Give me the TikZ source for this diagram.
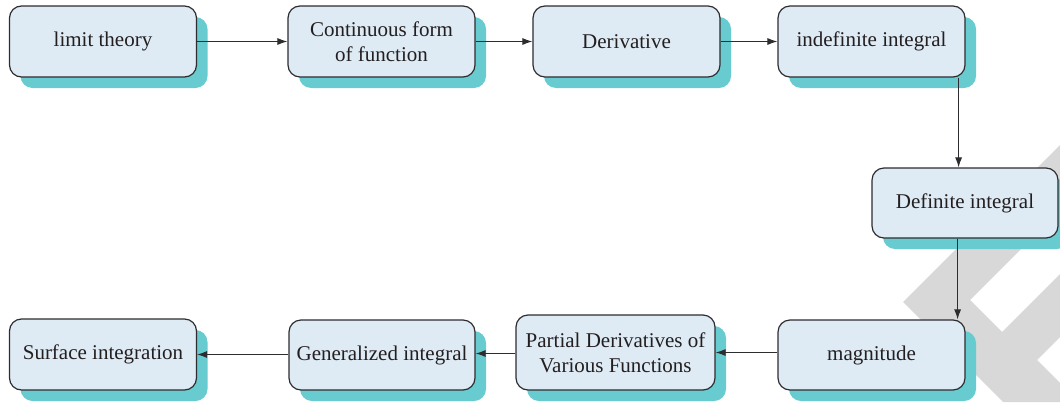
\documentclass[tikz,border=0pt]{standalone}
\usepackage{fontspec}
\setmainfont{Liberation Serif}
\usetikzlibrary{shadows,arrows.meta}
\definecolor{boxfill}{RGB}{222,234,244}
\definecolor{boxline}{RGB}{45,45,48}
\definecolor{shadowcol}{RGB}{104,203,208}
\definecolor{textcol}{RGB}{35,31,32}
\definecolor{markgrey}{RGB}{216,216,216}
\tikzset{
  stagebox/.style={
    draw=boxline, line width=1.2pt, fill=boxfill, rounded corners=12pt,
    minimum width=187pt, minimum height=71pt, inner sep=0pt, align=center,
    text=textcol, font=\fontsize{21pt}{25pt}\selectfont,
    drop shadow={shadow xshift=11pt, shadow yshift=-11pt, fill=shadowcol, opacity=1}},
  flow/.style={draw=boxline, line width=1pt, -{Latex[length=10pt,width=7pt]}}
}
\begin{document}
\begin{tikzpicture}[x=1pt,y=-1pt]
\useasboundingbox (0,0) rectangle (1060,402);
% grey background emblem in the lower right corner
\fill[markgrey, even odd rule]
  (1060,145) -- (903,302) -- (1003,402) -- (1060,402) -- cycle
  (970,300) -- (1060,210) -- (1060,274) -- (1002,332) -- cycle
  (1037,360) -- (1060,337) -- (1060,383) -- cycle;

% top row
\node[stagebox] (lim)  at (103,41.5)   {limit theory};
\node[stagebox] (cont) at (381.5,41.5) {Continuous form\\of function};
\node[stagebox] (der)  at (626.5,41.5) {Derivative};
\node[stagebox] (indef) at (871.5,41.5) {indefinite integral};
% right column
\node[stagebox, minimum width=186pt, minimum height=70pt] (defi) at (965,203) {Definite integral};
% bottom row
\node[stagebox, minimum height=70pt] (mag) at (871.5,355) {magnitude};
\node[stagebox, minimum width=199pt, minimum height=75pt] (part) at (615.5,352.5) {Partial Derivatives of\\Various Functions};
\node[stagebox, minimum width=186pt, minimum height=70pt] (gen) at (382,355) {Generalized integral};
\node[stagebox, minimum height=71pt] (surf) at (103,354.5) {Surface integration};

% connectors
\draw[flow] (lim.east) -- (cont.west);
\draw[flow] (cont.east) -- (der.west);
\draw[flow] (der.east) -- (indef.west);
\draw[flow] ([xshift=-7pt]indef.south east) -- ([xshift=-7pt]indef.south east |- defi.north);
\draw[flow] ([xshift=-8pt]mag.north east |- defi.south) -- ([xshift=-8pt]mag.north east);
\draw[flow] (mag.west |- part.east) -- (part.east);
\draw[flow] ([yshift=-1pt]part.west) -- ([yshift=-1pt]part.west -| gen.east);
\draw[flow] (gen.west |- surf.east) -- (surf.east);
\end{tikzpicture}
\end{document}
